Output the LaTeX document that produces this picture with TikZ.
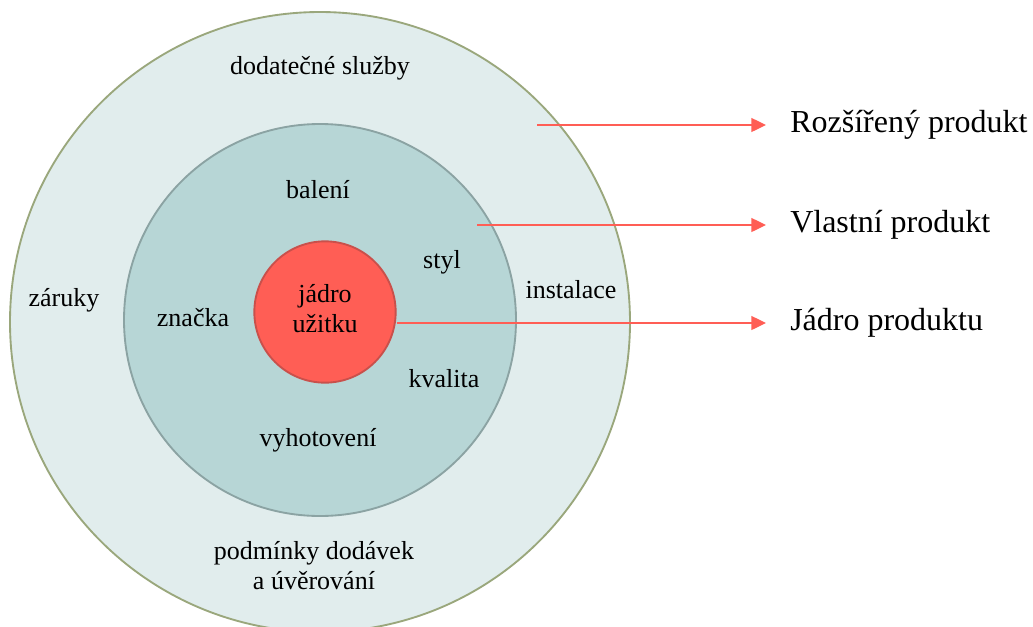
\documentclass[tikz,border=0pt]{standalone}
\usepackage{fontspec}
\setmainfont{Liberation Serif}
\usetikzlibrary{arrows.meta}

\definecolor{outerfill}{HTML}{E1EDED}
\definecolor{outerline}{HTML}{9AA77C}
\definecolor{midfill}{HTML}{B7D6D6}
\definecolor{midline}{HTML}{8BA3A3}
\definecolor{corefill}{HTML}{FF5E55}
\definecolor{coreline}{HTML}{C9504B}

\tikzset{
  layer/.style={circle, inner sep=0pt, line width=1.4pt},
  inlabel/.style={font=\fontsize{19.5}{22.5}\selectfont, align=center, inner sep=0pt},
  sidelabel/.style={font=\fontsize{24}{28}\selectfont, anchor=west, inner sep=0pt},
  pointer/.style={draw=corefill, line width=1pt, -{Triangle[length=11pt,width=10.5pt]}, shorten >=18pt}
}

\begin{document}
\begin{tikzpicture}[x=0.75pt, y=-0.75pt]

        \useasboundingbox (0,0) rectangle (1033,626);
        \clip (0,0) rectangle (1033,626);

        %Rings of the product
        \node[layer, draw=outerline, fill=outerfill, minimum size=465pt] (outer) at (320,322) {}; %extended
        \node[layer, draw=midline, fill=midfill, minimum size=294pt] (middle) at (320,320) {}; %actual
        \node[layer, draw=coreline, fill=corefill, minimum size=106pt] (core) at (325,312) {}; %core

        %Texts in the outer ring
        \node[inlabel] (sluzby) at (320,68) {dodatečné služby};
        \node[inlabel] (zaruky) at (64,300) {záruky};
        \node[inlabel] (instalace) at (571,290) {instalace};
        \node[inlabel] (podminky) at (314,566) {podmínky dodávek\\a úvěrování};

        %Texts in the middle ring
        \node[inlabel] (baleni) at (318,190) {balení};
        \node[inlabel] (styl) at (442,262) {styl};
        \node[inlabel] (znacka) at (193,318) {značka};
        \node[inlabel] (kvalita) at (444,379) {kvalita};
        \node[inlabel] (vyhotoveni) at (318,440) {vyhotovení};

        %Text in the core
        \node[inlabel] (uzitek) at (325,309) {jádro\\užitku};

        %Labels on the right
        \node[sidelabel] (rozsireny) at (790,125) {Rozšířený produkt};
        \node[sidelabel] (vlastni) at (790,225) {Vlastní produkt};
        \node[sidelabel] (jadro) at (790,323) {Jádro produktu};

        %Pointers to the labels
        \coordinate (rozsirenyStart) at (537,125);
        \coordinate (vlastniStart) at (477,225);
        \draw[pointer] (rozsirenyStart) -- (rozsireny.west);
        \draw[pointer] (vlastniStart) -- (vlastni.west);
        \draw[pointer] (core.east |- jadro.west) -- (jadro.west);

\end{tikzpicture}
\end{document}
